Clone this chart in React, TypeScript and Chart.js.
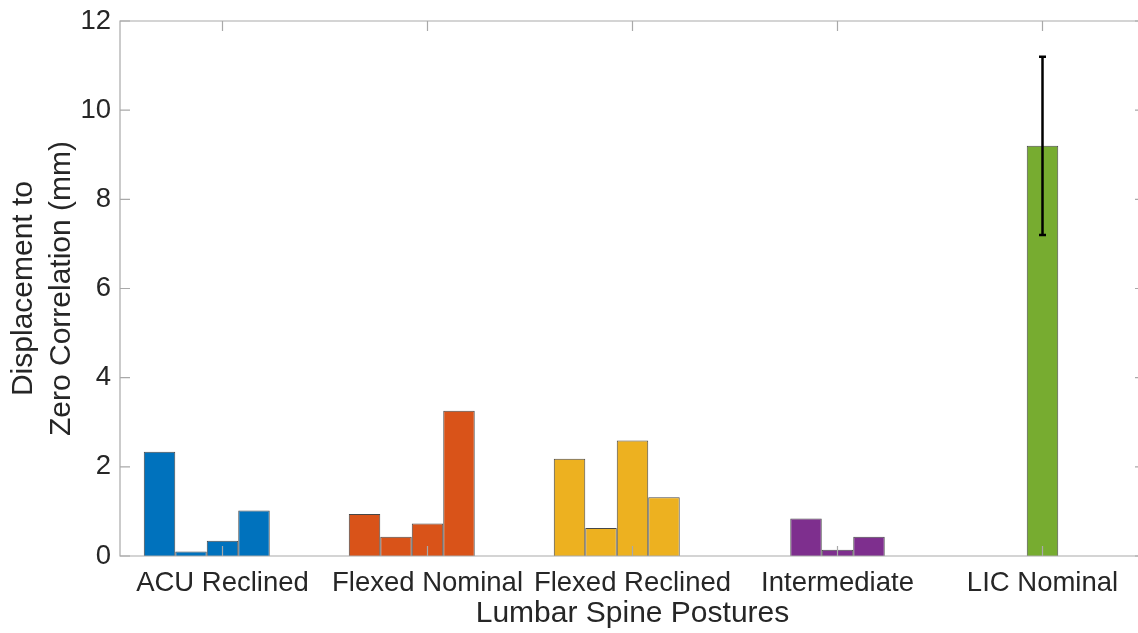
import React, { useEffect, useRef } from "react";
import { Chart, registerables } from "chart.js";

Chart.register(...registerables);

const categories = ["ACU Reclined", "Flexed Nominal", "Flexed Reclined", "Intermediate", "LIC Nominal"];
const categoryColors = ["#0072BD", "#D95319", "#EDB120", "#7E2F8E", "#77AC30"];

// grouped bar slots (5 per posture)
const slot1 = [2.34, 0.94, 2.18, null, null];
const slot2 = [0.1, 0.43, 0.63, 0.84, null];
const slot3 = [0.34, 0.73, 2.59, 0.14, 9.2];
const slot4 = [1.02, 3.26, 1.32, 0.43, null];
const slot5 = [null, null, null, null, null];

// error bar (LIC Nominal, slot 3)
const errorCategoryIndex = 4;
const errorSlotIndex = 2;
const errorLow = 7.2;
const errorHigh = 11.2;

const yTicks = [0, 2, 4, 6, 8, 10, 12];

const FONT = "'Liberation Sans', Arial, Helvetica, sans-serif";
const TEXT = "#262626";
const AXIS = "#a9a9a9";

const boxPlugin = {
  id: "matlabBox",
  afterDatasetsDraw(chart: any) {
    const { ctx, chartArea } = chart;
    const { left, right, top, bottom } = chartArea;
    const x = chart.scales.x;
    const y = chart.scales.y;

    // error bar
    const meta = chart.getDatasetMeta(errorSlotIndex);
    const el = meta.data[errorCategoryIndex];
    if (el) {
      const cx = el.x;
      const yl = y.getPixelForValue(errorLow);
      const yh = y.getPixelForValue(errorHigh);
      ctx.save();
      ctx.strokeStyle = "#000";
      ctx.lineWidth = 2.5;
      ctx.beginPath();
      ctx.moveTo(cx, yl);
      ctx.lineTo(cx, yh);
      ctx.stroke();
      ctx.beginPath();
      ctx.moveTo(cx - 3.5, yl);
      ctx.lineTo(cx + 3.5, yl);
      ctx.moveTo(cx - 3.5, yh);
      ctx.lineTo(cx + 3.5, yh);
      ctx.stroke();
      ctx.restore();
    }

    ctx.save();
    ctx.strokeStyle = AXIS;
    ctx.lineWidth = 1.2;
    ctx.beginPath();
    // box: left, top, bottom (right edge lies outside the visible page)
    ctx.moveTo(right + 2, top);
    ctx.lineTo(left, top);
    ctx.lineTo(left, bottom);
    ctx.lineTo(right + 2, bottom);
    ctx.stroke();
    const tl = 10;
    ctx.beginPath();
    for (const v of yTicks) {
      const py = y.getPixelForValue(v);
      ctx.moveTo(left, py);
      ctx.lineTo(left + tl, py);
      ctx.moveTo(right, py);
      ctx.lineTo(right - tl, py);
    }
    categories.forEach((_, i) => {
      const px = x.getPixelForValue(i);
      ctx.moveTo(px, bottom);
      ctx.lineTo(px, bottom - tl);
      ctx.moveTo(px, top);
      ctx.lineTo(px, top + tl);
    });
    ctx.stroke();
    ctx.restore();
  },
};

export default function App() {
  const ref = useRef<HTMLCanvasElement | null>(null);

  useEffect(() => {
    if (!ref.current) return;
    const slots = [slot1, slot2, slot3, slot4, slot5];
    const chart = new Chart(ref.current, {
      type: "bar",
      data: {
        labels: categories,
        datasets: slots.map((s, i) => ({
          label: "Slot " + (i + 1),
          data: s as any,
          backgroundColor: categoryColors,
          borderColor: "rgba(0,0,0,0.72)",
          borderWidth: 1,
          categoryPercentage: 0.768,
          barPercentage: 1,
        })),
      },
      options: {
        animation: false,
        responsive: true,
        maintainAspectRatio: false,
        devicePixelRatio: 1,
        layout: { padding: { top: 21, right: 5, left: 0, bottom: 0 } },
        plugins: {
          legend: { display: false },
          tooltip: { enabled: false },
        },
        scales: {
          x: {
            offset: true,
            grid: { display: false, drawTicks: false },
            border: { display: false },
            ticks: {
              color: TEXT,
              font: { family: FONT, size: 27.5 },
              padding: 11,
              maxRotation: 0,
              autoSkip: false,
            },
            title: {
              display: true,
              text: "Lumbar Spine Postures",
              color: TEXT,
              font: { family: FONT, size: 30 },
              padding: { top: 0, bottom: 1 },
            },
            afterFit: (s: any) => {
              s.height = 77;
              s.paddingLeft = 0;
              s.paddingRight = 0;
            },
          },
          y: {
            min: 0,
            max: 12,
            grid: { display: false, drawTicks: false },
            border: { display: false },
            afterBuildTicks: (s: any) => {
              s.ticks = yTicks.map((v) => ({ value: v }));
            },
            ticks: {
              color: TEXT,
              font: { family: FONT, size: 27.5 },
              padding: 9,
            },
            title: {
              display: true,
              text: ["Displacement to", "Zero Correlation (mm)"],
              color: TEXT,
              font: { family: FONT, size: 30, lineHeight: 1.25 },
              padding: { top: 5, bottom: 0 },
            },
            afterFit: (s: any) => {
              s.width = 120;
              s.paddingTop = 0;
              s.paddingBottom = 0;
            },
          },
        },
      },
      plugins: [boxPlugin],
    });
    return () => chart.destroy();
  }, []);

  return (
    <div
      style={{
        position: "fixed",
        left: 0,
        top: 0,
        width: 1138,
        height: 633,
        overflow: "hidden",
        background: "#fff",
      }}
    >
      <div style={{ position: "relative", width: 1150, height: 633 }}>
        <canvas ref={ref} />
      </div>
    </div>
  );
}
